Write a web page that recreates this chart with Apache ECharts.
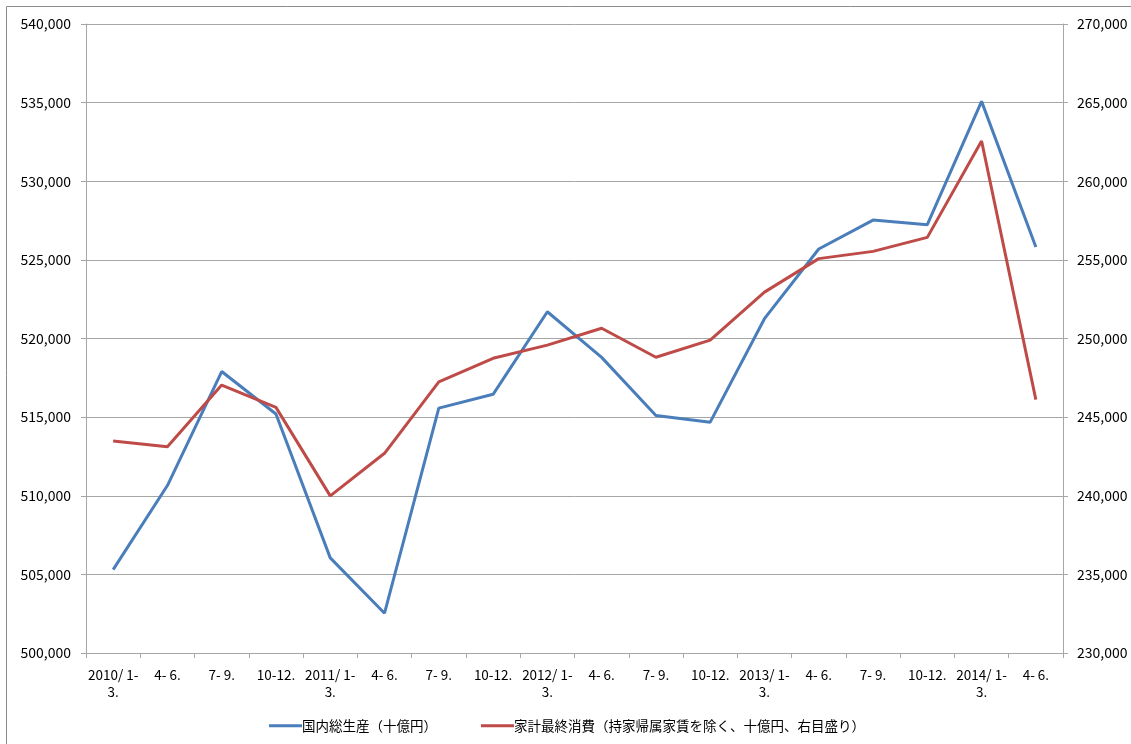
<!DOCTYPE html>
<html>
<head>
<meta charset="utf-8">
<script src="https://cdn.jsdelivr.net/npm/echarts@6/dist/echarts.min.js"></script>
<style>
html,body{margin:0;padding:0;background:#fff;}
#c{width:1131px;height:744px;}
</style>
</head>
<body>
<div id="c"></div>
<script>
const categories = [
  "2010/ 1-\n3.", "4- 6.", "7- 9.", "10-12.",
  "2011/ 1-\n3.", "4- 6.", "7- 9.", "10-12.",
  "2012/ 1-\n3.", "4- 6.", "7- 9.", "10-12.",
  "2013/ 1-\n3.", "4- 6.", "7- 9.", "10-12.",
  "2014/ 1-\n3.", "4- 6."
];
const gdp = [505300, 510650, 517900, 515200, 506050, 502530, 515570, 516450, 521700, 518800, 515100, 514680, 521260, 525690, 527530, 527240, 535080, 525820];
const consumption = [243480, 243110, 247040, 245620, 239990, 242700, 247240, 248740, 249580, 250650, 248810, 249900, 252950, 255080, 255540, 256430, 262560, 246110];
const seriesNames = ["国内総生産（十億円）", "家計最終消費（持家帰属家賃を除く、十億円、右目盛り）"];
const leftTicks = {min: 500000, max: 540000, interval: 5000};
const rightTicks = {min: 230000, max: 270000, interval: 5000};

const fmt = v => String(v).replace(/\B(?=(\d{3})+(?!\d))/g, ",");
const FONT = "'Noto Sans CJK JP', 'DejaVu Sans', sans-serif";
const gridColor = "#a6a6a6";

const chart = echarts.init(document.getElementById('c'), null, {renderer: 'canvas'});
chart.setOption({
  backgroundColor: '#fff',
  animation: false,
  textStyle: {fontFamily: FONT},
  graphic: [{
    type: 'rect',
    shape: {x: 6.5, y: 6.5, width: 1140, height: 760},
    style: {fill: 'none', stroke: '#8c8c8c', lineWidth: 1},
    silent: true
  }],
  grid: {left: 86, right: 68, top: 24, bottom: 91, containLabel: false},
  legend: {
    left: 264, top: 714,
    itemWidth: 33, itemHeight: 3, itemGap: 44,
    icon: 'rect',
    textStyle: {fontFamily: FONT, fontSize: 13.5, color: '#000', padding: [0,0,0,-5]},
    data: seriesNames
  },
  xAxis: {
    type: 'category',
    data: categories,
    boundaryGap: true,
    axisLine: {lineStyle: {color: gridColor, width: 1}},
    axisTick: {show: true, length: 5, alignWithLabel: false, lineStyle: {color: gridColor}},
    axisLabel: {interval: 0, color: '#000', fontSize: 13.5, lineHeight: 17, margin: 13, fontFamily: FONT}
  },
  yAxis: [{
    type: 'value',
    min: leftTicks.min, max: leftTicks.max, interval: leftTicks.interval,
    position: 'left',
    axisLine: {show: true, lineStyle: {color: gridColor}},
    axisTick: {show: true, inside: false, length: 5, lineStyle: {color: gridColor}},
    splitLine: {show: true, lineStyle: {color: gridColor, width: 1}},
    axisLabel: {formatter: fmt, color: '#000', fontSize: 14, margin: 15, fontFamily: FONT}
  }, {
    type: 'value',
    min: rightTicks.min, max: rightTicks.max, interval: rightTicks.interval,
    position: 'right',
    axisLine: {show: true, lineStyle: {color: gridColor}},
    axisTick: {show: true, inside: false, length: 5, lineStyle: {color: gridColor}},
    splitLine: {show: false},
    axisLabel: {formatter: fmt, color: '#000', fontSize: 14, margin: 14, fontFamily: FONT}
  }],
  series: [{
    name: seriesNames[0],
    type: 'line',
    yAxisIndex: 0,
    data: gdp,
    showSymbol: false,
    symbol: 'none',
    lineStyle: {color: '#4a7ebb', width: 3},
    itemStyle: {color: '#4a7ebb'}
  }, {
    name: seriesNames[1],
    type: 'line',
    yAxisIndex: 1,
    data: consumption,
    showSymbol: false,
    symbol: 'none',
    lineStyle: {color: '#be4b48', width: 3},
    itemStyle: {color: '#be4b48'}
  }]
});
</script>
</body>
</html>
